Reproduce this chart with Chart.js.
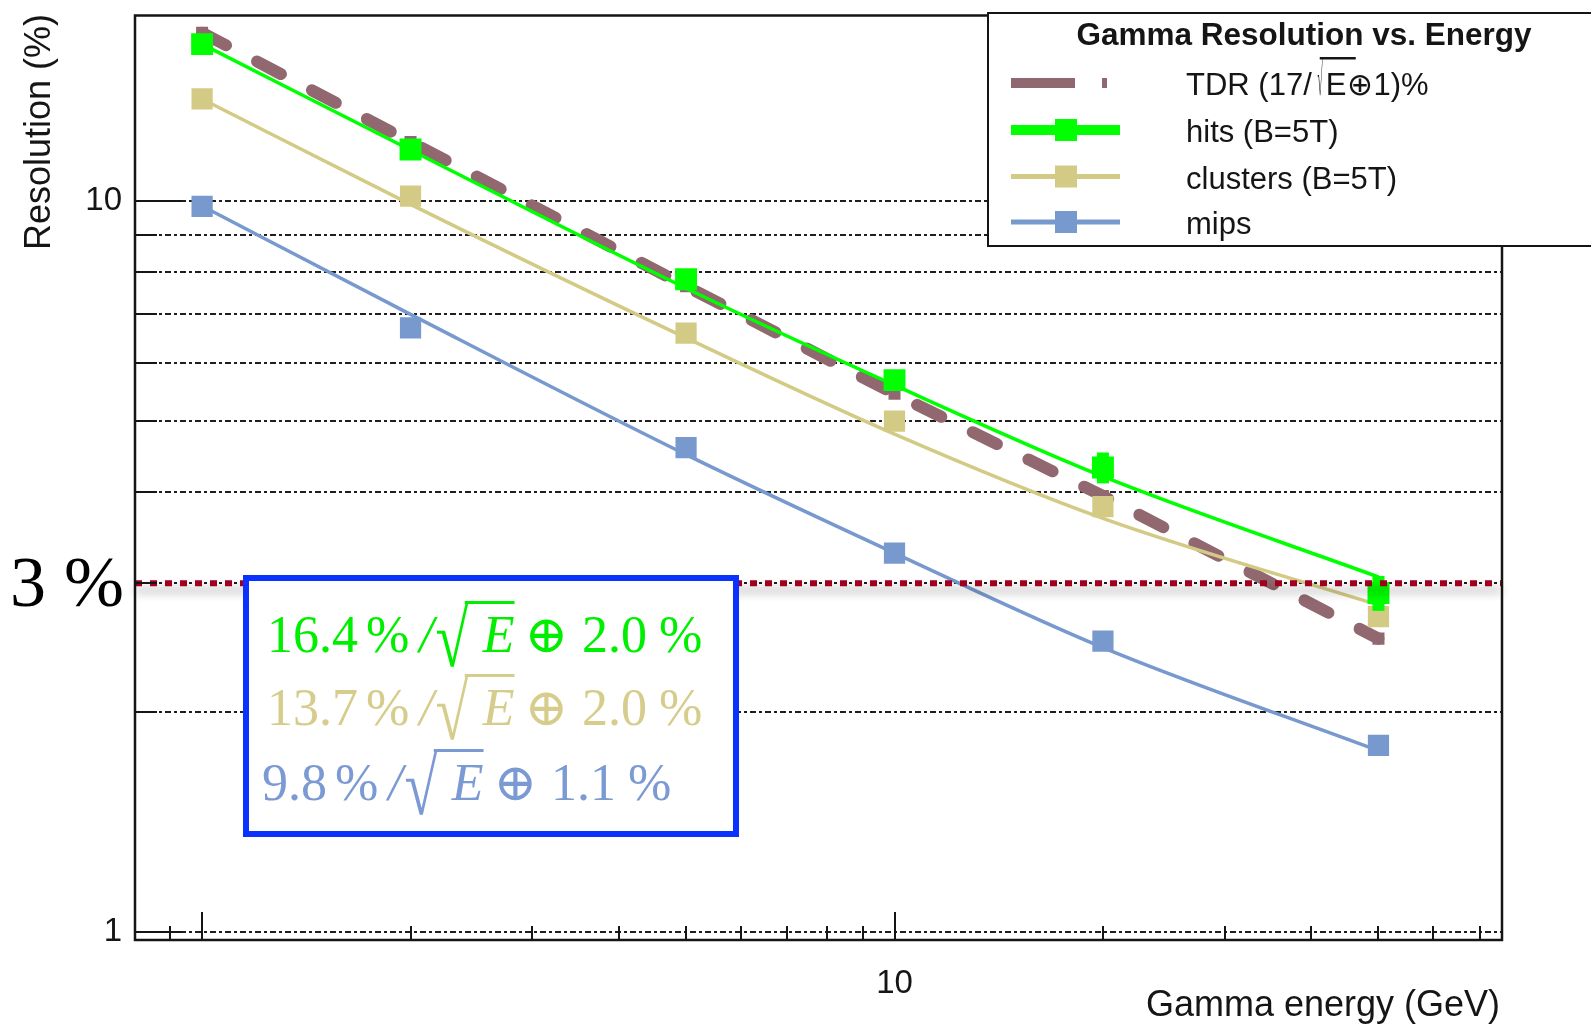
<!DOCTYPE html>
<html>
<head>
<meta charset="utf-8">
<title>Gamma Resolution vs. Energy</title>
<script src="https://cdn.jsdelivr.net/npm/chart.js@4.4.1/dist/chart.umd.min.js"></script>
<style>
  html, body { margin: 0; padding: 0; background: #fff; overflow: hidden; }
  canvas { display: block; }
</style>
</head>
<body>
<canvas id="resChart" width="1591" height="1026"></canvas>
<script>
// photon energies (GeV)
const energies = [1, 2, 5, 10, 20, 50];

// resolution (%) per energy point
const tdrRes = [17.0, 12.05, 7.65, 5.45, 3.95, 2.52];
const hitsRes = [16.4, 11.77, 7.82, 5.69, 4.32, 2.91];
const hitsErr = [0, 0, 0, 0.05, 0.21, 0.16];
const clusterRes = [13.8, 10.16, 6.6, 5.0, 3.82, 2.70];
const mipsRes = [9.84, 6.71, 4.6, 3.30, 2.50, 1.80];

// fitted curves, sampled at the same energies
const hitsFit = [16.4, 11.75, 7.6, 5.6, 4.2, 3.06];
const clusterFit = [13.8, 9.9, 6.5, 4.8, 3.68, 2.8];
const mipsFit = [9.85, 7.0, 4.5, 3.3, 2.45, 1.77];

// 3 % goal line
const targetRes = 3;

// axis ticks
const xTickValues = [0.9, 1, 2, 3, 4, 5, 6, 7, 8, 9, 10, 20, 30, 40, 50, 60, 70];
const xMajor = [1, 10];
const xLabelled = [10];
const yTickValues = [1, 2, 3, 4, 5, 6, 7, 8, 9, 10];
const yMajor = [1, 10];
const yLabelled = [1, 10];

// texts
const legendTitle = 'Gamma Resolution vs. Energy';
const seriesLabels = ['TDR', 'hits (B=5T)', 'clusters (B=5T)', 'mips'];
const fitCoef = ['16.4', '13.7', '9.8'];
const fitConst = ['2.0', '2.0', '1.1'];

const SANS = '"Liberation Sans", Arial, Helvetica, sans-serif';
const SERIF = '"Liberation Serif", "Times New Roman", "DejaVu Serif", serif';

const BROWN = '#91686f';
const GREEN = '#00ff00';
const TAN = '#d3cb85';
const BLUE = '#7899ce';
const RED = '#a0001e';
const BOX_BLUE = '#0a32ff';
const INK = '#151515';

const pts = vals => energies.map((e, i) => ({ x: e, y: vals[i] }));

const fitLine = (vals, color, order) => ({
    data: pts(vals),
    showLine: true,
    borderColor: color,
    borderWidth: 3.5,
    pointRadius: 0,
    cubicInterpolationMode: 'monotone',
    order: order
});

const markers = (label, vals, color, size, order) => ({
    label: label,
    data: pts(vals),
    showLine: false,
    pointStyle: 'rect',
    pointRadius: size,
    pointBorderWidth: 0,
    pointBackgroundColor: color,
    backgroundColor: color,
    order: order
});

const datasets = [
    {
        label: seriesLabels[0],
        data: pts(tdrRes),
        showLine: true,
        borderColor: BROWN,
        borderWidth: 12,
        borderDash: [27, 35],
        borderCapStyle: 'round',
        pointStyle: 'rect',
        pointRadius: 8.5,
        pointBorderWidth: 0,
        pointBackgroundColor: BROWN,
        order: 6
    },
    fitLine(hitsFit, GREEN, 1),
    markers(seriesLabels[1], hitsRes, GREEN, 15.5, 0),
    fitLine(clusterFit, TAN, 3),
    markers(seriesLabels[2], clusterRes, TAN, 15, 2),
    fitLine(mipsFit, BLUE, 5),
    markers(seriesLabels[3], mipsRes, BLUE, 15, 4)
];
const HITS_INDEX = 2;

// square-root sign squeezed into a given box
function drawRadical(ctx, x, top, bottom, width) {
    ctx.save();
    ctx.font = '100px ' + SERIF;
    ctx.textAlign = 'left';
    ctx.textBaseline = 'alphabetic';
    const m = ctx.measureText('\u221A');
    const inkH = m.actualBoundingBoxAscent + m.actualBoundingBoxDescent;
    const inkW = m.actualBoundingBoxLeft + m.actualBoundingBoxRight;
    ctx.translate(x, top);
    ctx.scale(width / inkW, (bottom - top) / inkH);
    ctx.fillText('\u221A', m.actualBoundingBoxLeft, m.actualBoundingBoxAscent);
    ctx.restore();
}

// one line of the fit results: a % / sqrt(E) (+) b %
function drawFit(ctx, x, base, color, coef, cst) {
    ctx.fillStyle = color;
    ctx.textAlign = 'left';
    ctx.textBaseline = 'alphabetic';
    const f = '52px ' + SERIF;
    const fi = 'italic 52px ' + SERIF;
    const put = (txt, font, gap) => {
        ctx.font = font;
        ctx.fillText(txt, x, base);
        x += ctx.measureText(txt).width + gap;
    };
    put(coef, f, 8);
    put('%', f, 10);
    put('/', fi, 3);
    drawRadical(ctx, x, base - 51, base + 15, 32);
    const barX = x + 28;
    x += 46;
    put('E', fi, 10);
    ctx.fillRect(barX, base - 51, x - 10 - barX, 3);
    put('\u2295', f, 14);
    put(cst, f, 12);
    put('%', f, 0);
}

function drawLegend(ctx) {
    const L = 988, T = 13, B = 246;
    ctx.save();
    ctx.fillStyle = '#fff';
    ctx.fillRect(L, T, 1591 - L + 10, B - T);
    ctx.strokeStyle = INK;
    ctx.lineWidth = 2;
    ctx.strokeRect(L, T, 1591 - L + 20, B - T);

    ctx.fillStyle = INK;
    ctx.font = 'bold 31.5px ' + SANS;
    ctx.textAlign = 'center';
    ctx.textBaseline = 'alphabetic';
    ctx.fillText(legendTitle, 1304, 45);

    const rows = [83, 130, 176.5, 222];
    const x0 = 1011, x1 = 1120, xm = 1066, tx = 1186;

    // TDR: long dash + short tick
    ctx.strokeStyle = BROWN;
    ctx.lineWidth = 10;
    ctx.lineCap = 'butt';
    ctx.setLineDash([64, 27, 5, 200]);
    ctx.beginPath();
    ctx.moveTo(x0, rows[0]);
    ctx.lineTo(x1, rows[0]);
    ctx.stroke();
    ctx.setLineDash([]);

    const symbol = (y, color, lw) => {
        ctx.strokeStyle = color;
        ctx.lineWidth = lw;
        ctx.beginPath();
        ctx.moveTo(x0, y);
        ctx.lineTo(x1, y);
        ctx.stroke();
        ctx.fillStyle = color;
        ctx.fillRect(xm - 11, y - 11, 22, 22);
    };
    symbol(rows[1], GREEN, 10);
    symbol(rows[2], TAN, 5);
    symbol(rows[3], BLUE, 5);

    ctx.fillStyle = INK;
    ctx.textAlign = 'left';
    const f = '31px ' + SANS;
    ctx.font = f;
    // TDR (17/sqrt(E) (+) 1)%
    let x = tx;
    const b0 = rows[0] + 12;
    const head = seriesLabels[0] + ' (17/';
    ctx.fillText(head, x, b0);
    x += ctx.measureText(head).width + 6;
    drawRadical(ctx, x, rows[0] - 25, b0, 5);
    ctx.fillRect(x + 2, rows[0] - 26, 36, 2.5);
    x += 8;
    ctx.font = f;
    ctx.fillText('E', x, b0);
    x += ctx.measureText('E').width + 1;
    ctx.fillText('\u22951)%', x, b0);

    for (let i = 1; i < 4; i++) {
        ctx.fillText(seriesLabels[i], tx, rows[i] + 12);
    }
    ctx.restore();
}

const resolutionPlot = {
    id: 'resolutionPlot',
    beforeDatasetsDraw(chart) {
        const { ctx, chartArea: a, scales: { y } } = chart;
        ctx.save();
        ctx.strokeStyle = '#1e1e1e';
        ctx.lineWidth = 2;
        ctx.setLineDash([6, 3, 3, 3]);
        yTickValues.forEach(v => {
            const py = Math.round(y.getPixelForValue(v));
            ctx.beginPath();
            ctx.moveTo(a.left, py);
            ctx.lineTo(a.right, py);
            ctx.stroke();
        });
        ctx.restore();
    },
    beforeDatasetDraw(chart, args) {
        if (args.index !== HITS_INDEX) return;
        const { ctx, scales: { x, y } } = chart;
        ctx.save();
        ctx.fillStyle = GREEN;
        energies.forEach((e, i) => {
            if (!hitsErr[i]) return;
            const px = x.getPixelForValue(e);
            const top = y.getPixelForValue(hitsRes[i] + hitsErr[i]);
            const bot = y.getPixelForValue(hitsRes[i] - hitsErr[i]);
            ctx.fillRect(px - 6, top, 12, bot - top);
        });
        ctx.restore();
    },
    afterDatasetsDraw(chart) {
        const { ctx, chartArea: a, scales: { x, y } } = chart;
        const ty = y.getPixelForValue(targetRes);
        ctx.save();
        // soft shadow under the goal line
        ctx.shadowColor = 'rgba(0,0,0,0.22)';
        ctx.shadowBlur = 10;
        ctx.shadowOffsetY = 2000 + 7;
        ctx.strokeStyle = '#000';
        ctx.lineWidth = 6;
        ctx.beginPath();
        ctx.moveTo(a.left, ty - 2000);
        ctx.lineTo(a.right, ty - 2000);
        ctx.stroke();
        ctx.restore();

        ctx.save();
        ctx.strokeStyle = RED;
        ctx.lineWidth = 6;
        ctx.setLineDash([7, 8]);
        ctx.beginPath();
        ctx.moveTo(a.left, ty);
        ctx.lineTo(a.right, ty);
        ctx.stroke();
        ctx.restore();

        // frame and inward ticks
        ctx.save();
        ctx.strokeStyle = INK;
        ctx.lineWidth = 2.5;
        ctx.strokeRect(a.left, a.top, a.right - a.left, a.bottom - a.top);
        ctx.lineWidth = 2;
        ctx.beginPath();
        yTickValues.forEach(v => {
            const py = Math.round(y.getPixelForValue(v));
            ctx.moveTo(a.left, py);
            ctx.lineTo(a.left + (yMajor.includes(v) ? 47 : 22), py);
        });
        xTickValues.forEach(v => {
            const px = Math.round(x.getPixelForValue(v));
            ctx.moveTo(px, a.bottom);
            ctx.lineTo(px, a.bottom - (xMajor.includes(v) ? 28 : 14));
        });
        ctx.stroke();
        ctx.restore();
    },
    afterDraw(chart) {
        const { ctx, scales: { y } } = chart;
        ctx.save();
        ctx.fillStyle = INK;
        ctx.font = '36px ' + SANS;
        ctx.textBaseline = 'alphabetic';
        ctx.textAlign = 'right';
        ctx.fillText('Gamma energy (GeV)', 1500, 1016);
        ctx.save();
        ctx.translate(50, 250);
        ctx.rotate(-Math.PI / 2);
        ctx.textAlign = 'left';
        ctx.fillText('Resolution (%)', 0, 0);
        ctx.restore();

        // goal label
        ctx.fillStyle = '#000';
        ctx.textAlign = 'left';
        ctx.font = '72px ' + SERIF;
        ctx.fillText('3 %', 10, y.getPixelForValue(targetRes) + 23);
        ctx.restore();

        drawLegend(ctx);

        // fit results box
        ctx.save();
        ctx.fillStyle = '#fff';
        ctx.fillRect(243, 575, 496, 262);
        ctx.strokeStyle = BOX_BLUE;
        ctx.lineWidth = 6;
        ctx.strokeRect(246, 578, 490, 256);
        drawFit(ctx, 267, 652, '#00ee00', fitCoef[0], fitConst[0]);
        drawFit(ctx, 267, 725, '#d6cc8c', fitCoef[1], fitConst[1]);
        drawFit(ctx, 262, 800, '#7b9ad4', fitCoef[2], fitConst[2]);
        ctx.restore();
    }
};

new Chart(document.getElementById('resChart'), {
    type: 'scatter',
    data: { datasets: datasets },
    options: {
        responsive: false,
        animation: false,
        devicePixelRatio: 1,
        layout: { padding: { top: 14, right: 89, left: 0, bottom: 0 } },
        plugins: {
            legend: { display: false },
            tooltip: { enabled: false }
        },
        scales: {
            x: {
                type: 'logarithmic',
                position: 'bottom',
                min: 0.8,
                max: 75.4,
                grid: { display: false, drawTicks: false },
                border: { display: false },
                afterBuildTicks: s => { s.ticks = xTickValues.map(v => ({ value: v })); },
                afterFit: s => {
                    s.height = 86;
                    s.paddingLeft = 0;
                    s.paddingRight = 0;
                },
                ticks: {
                    autoSkip: false,
                    maxRotation: 0,
                    padding: 24,
                    color: INK,
                    font: { family: SANS, size: 33 },
                    callback: v => (xLabelled.includes(v) ? String(v) : '')
                }
            },
            y: {
                type: 'logarithmic',
                min: 0.975,
                max: 17.95,
                grid: { display: false, drawTicks: false },
                border: { display: false },
                afterBuildTicks: s => { s.ticks = yTickValues.map(v => ({ value: v })); },
                afterFit: s => {
                    s.width = 135;
                    s.paddingTop = 0;
                    s.paddingBottom = 0;
                },
                ticks: {
                    autoSkip: false,
                    padding: 13,
                    color: INK,
                    font: { family: SANS, size: 33 },
                    callback: v => (yLabelled.includes(v) ? String(v) : '')
                }
            }
        }
    },
    plugins: [resolutionPlot]
});
</script>
</body>
</html>
